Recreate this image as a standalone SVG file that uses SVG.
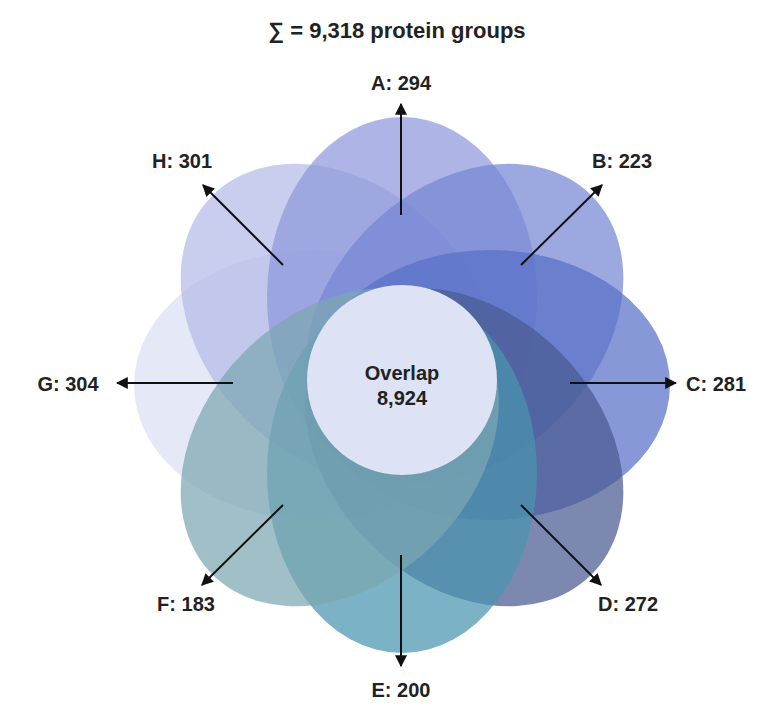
<svg xmlns="http://www.w3.org/2000/svg" width="773" height="713" viewBox="0 0 773 713">
<style>
text{font-family:"Liberation Sans",Arial,sans-serif;font-weight:bold;fill:#222;text-anchor:middle}
.lb{font-size:20px}
.p{opacity:0.72}
.a{stroke:#111;stroke-width:2;fill:none;marker-end:url(#m)}
</style>
<defs><marker id="m" viewBox="0 0 10 10" refX="9" refY="5" markerWidth="6" markerHeight="6" orient="auto"><path d="M0,0L10,5L0,10z" fill="#111"/></marker></defs>
<rect width="773" height="713" fill="#fff"/>
<text x="397" y="38" font-size="22">∑ = 9,318 protein groups</text>
<g id="petals">
<g id="G"><ellipse class="p" cx="402" cy="297" rx="135" ry="180" transform="rotate(-90 402 385)" fill="#dbe1f4"/></g>
<g id="H"><ellipse class="p" cx="402" cy="297" rx="135" ry="180" transform="rotate(-45 402 385)" fill="#b4bae8"/></g>
<g id="A"><ellipse class="p" cx="402" cy="297" rx="135" ry="180" fill="#8f99dc"/></g>
<g id="B"><ellipse class="p" cx="402" cy="297" rx="135" ry="180" transform="rotate(45 402 385)" fill="#7686d4"/></g>
<g id="C"><ellipse class="p" cx="402" cy="297" rx="135" ry="180" transform="rotate(90 402 385)" fill="#5870c8"/></g>
<g id="D"><ellipse class="p" cx="402" cy="297" rx="135" ry="180" transform="rotate(135 402 385)" fill="#4a5a92"/></g>
<g id="E"><ellipse class="p" cx="402" cy="297" rx="135" ry="180" transform="rotate(180 402 385)" fill="#4a94ae"/></g>
<g id="F"><ellipse class="p" cx="402" cy="297" rx="135" ry="180" transform="rotate(225 402 385)" fill="#7ba6b2"/></g>
</g>
<g id="overlap"><circle cx="402" cy="380" r="95" fill="#dde2f4"/>
<text x="402" y="380" font-size="20">Overlap</text><text x="402" y="405" font-size="20">8,924</text></g>
<g id="connectors">
<line class="a" x1="401" y1="215" x2="401" y2="104"/>
<line class="a" x1="521" y1="265" x2="602" y2="185"/>
<line class="a" x1="570" y1="383" x2="676" y2="383"/>
<line class="a" x1="521" y1="505" x2="601" y2="585"/>
<line class="a" x1="401" y1="555" x2="401" y2="666"/>
<line class="a" x1="283" y1="505" x2="202" y2="585"/>
<line class="a" x1="233" y1="383" x2="117" y2="383"/>
<line class="a" x1="283" y1="265" x2="203" y2="185"/>
</g>
<g id="labels">
<text class="lb" x="401" y="90">A: 294</text>
<text class="lb" x="622" y="168">B: 223</text>
<text class="lb" x="716" y="391">C: 281</text>
<text class="lb" x="628" y="611">D: 272</text>
<text class="lb" x="401" y="697">E: 200</text>
<text class="lb" x="186" y="611">F: 183</text>
<text class="lb" x="68" y="391">G: 304</text>
<text class="lb" x="182" y="168">H: 301</text>
</g>
</svg>
